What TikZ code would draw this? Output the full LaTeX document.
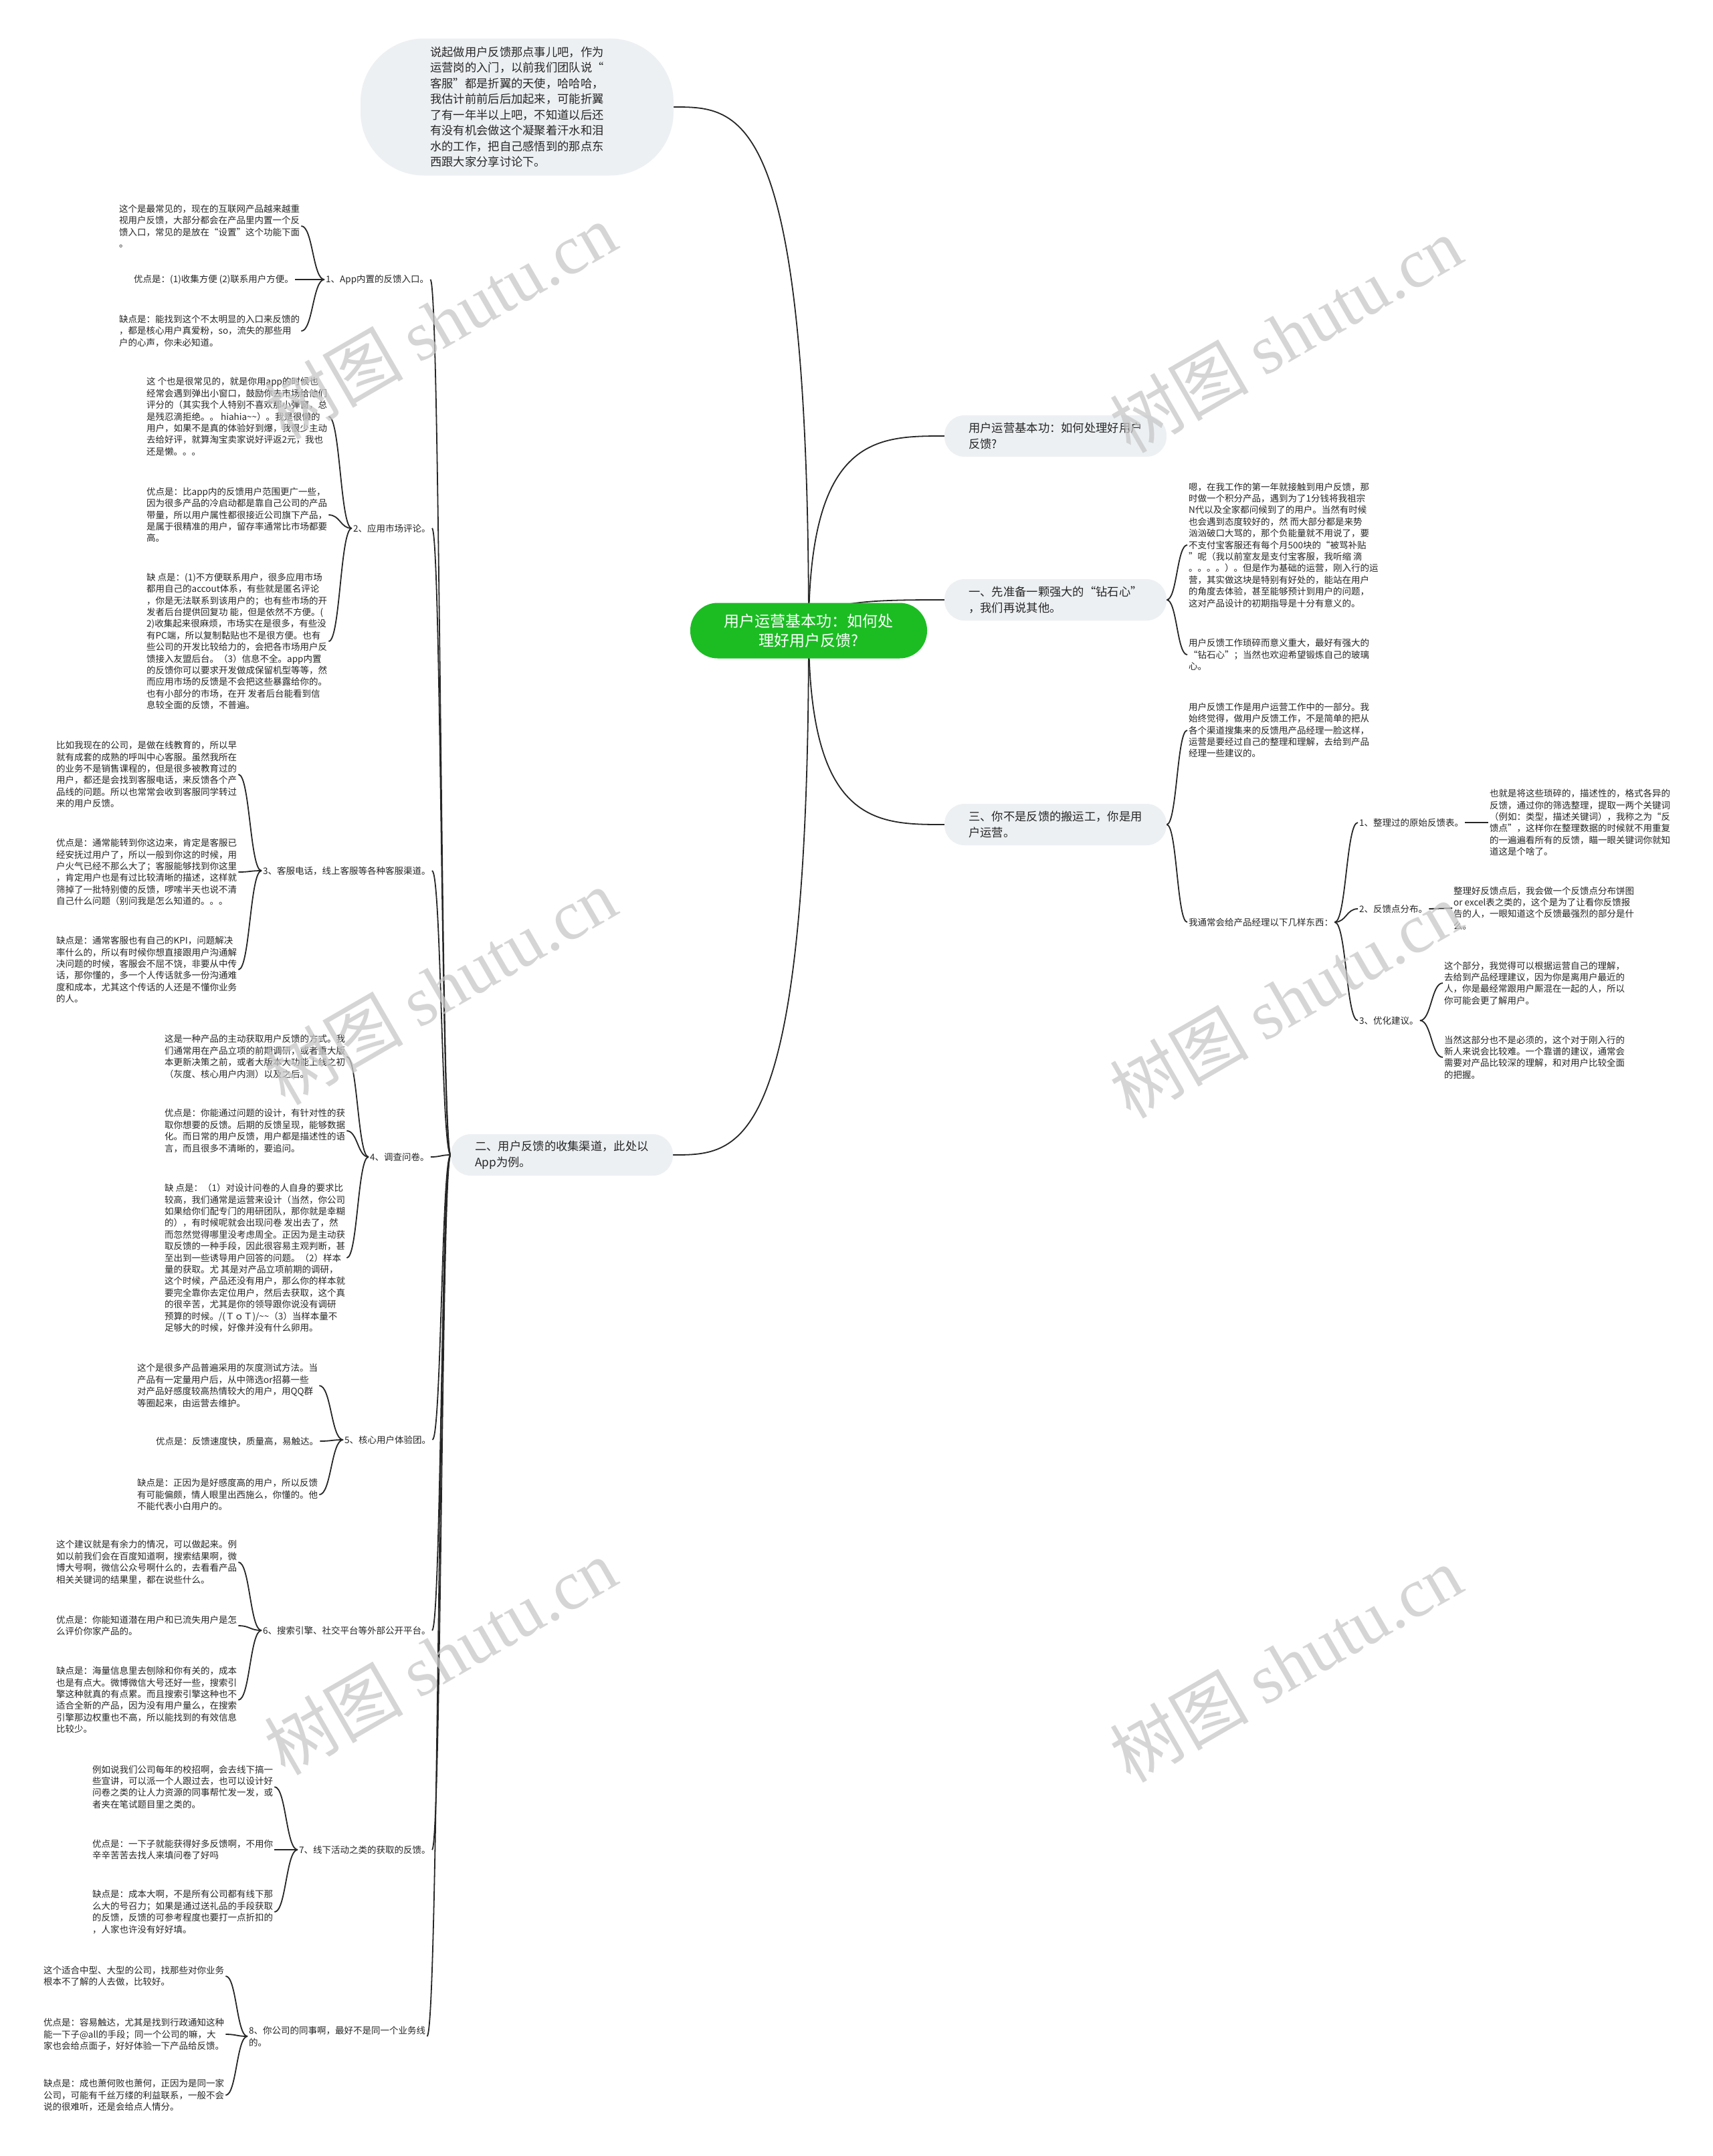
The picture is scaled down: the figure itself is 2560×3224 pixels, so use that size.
\documentclass[tikz,border=0pt]{standalone}
\usepackage{fontspec}
\setmainfont{Noto Sans CJK SC}
\newfontfamily\stampfont{Liberation Serif}
\usetikzlibrary{calc}
\definecolor{rootgreen}{RGB}{27,189,35}
\definecolor{topicgray}{RGB}{237,240,243}
\definecolor{ink}{RGB}{38,38,38}
\pgfdeclarelayer{paper}
\pgfdeclarelayer{wires}
\pgfsetlayers{paper,wires,main}

\begin{document}
\begin{tikzpicture}[
		% 统一样式
		x=1pt, y=-1pt,
		rootnode/.style = {fill=rootgreen, text=white, rounded corners=41pt, minimum width=354pt, minimum height=83pt, align=center, font=\fontsize{23pt}{29pt}\selectfont},
		topic/.style = {fill=topicgray, text=ink, rounded corners=30pt, minimum width=332pt, minimum height=62pt, align=left, font=\fontsize{17.3pt}{23.5pt}\selectfont},
		bubble/.style = {fill=topicgray, text=ink, rounded corners=95pt, minimum width=468pt, minimum height=205pt, align=left, font=\fontsize{17.3pt}{23.5pt}\selectfont},
		chan/.style = {anchor=west, text=ink, inner sep=2pt, align=left, font=\fontsize{13.5pt}{17.4pt}\selectfont},
		leafnote/.style = {anchor=west, text=ink, inner sep=2pt, align=left, font=\fontsize{13.5pt}{17.4pt}\selectfont},
		stamp/.style = {rotate=30, text=black!22, text opacity=0.75, font=\fontsize{104pt}{104pt}\selectfont},
		wire/.style = {draw=ink, line width=1.8pt},
		mainlink/.style = {to path={.. controls (\tikztostart |- \tikztotarget) and ($(\tikztostart |- \tikztotarget)!0.5!(\tikztotarget)$) .. (\tikztotarget)}},
		sublink/.style = {to path={.. controls ($(\tikztostart)!0.5!(\tikztostart -| \tikztotarget)$) and ($(\tikztotarget)!0.5!(\tikztotarget -| \tikztostart)$) .. (\tikztotarget)}}
		]
		
		\useasboundingbox (0,0) rectangle (2560,3224);
		\begin{pgfonlayer}{paper}
			\fill[white] (0,0) rectangle (2560,3224);
		\end{pgfonlayer}
		
		% --- 中心主题 ---
		\node[rootnode] (root) at (1209,943) {用户运营基本功：如何处\\理好用户反馈?};
		
		% --- 一级分支 ---
		\node[bubble] (intro) at (773,160) {说起做用户反馈那点事儿吧，作为\\运营岗的入门，以前我们团队说“\\客服”都是折翼的天使，哈哈哈，\\我估计前前后后加起来，可能折翼\\了有一年半以上吧，不知道以后还\\有没有机会做这个凝聚着汗水和泪\\水的工作，把自己感悟到的那点东\\西跟大家分享讨论下。};
		\node[topic] (title) at (1578,652) {用户运营基本功：如何处理好用户\\反馈?};
		\node[topic] (heart) at (1578,897) {一、先准备一颗强大的“钻石心”\\，我们再说其他。};
		\node[topic] (porter) at (1578,1233) {三、你不是反馈的搬运工，你是用\\户运营。};
		\node[topic] (channel) at (840,1727) {二、用户反馈的收集渠道，此处以\\App为例。};
		
		% --- 收集渠道 ---
		\node[chan] (ch1) at (485,418) {1、App内置的反馈入口。};
		\node[chan] (ch2) at (526,790) {2、应用市场评论。};
		\node[chan] (ch3) at (391,1302) {3、客服电话，线上客服等各种客服渠道。};
		\node[chan] (ch4) at (551,1730) {4、调查问卷。};
		\node[chan] (ch5) at (513,2153) {5、核心用户体验团。};
		\node[chan] (ch6) at (391,2438) {6、搜索引擎、社交平台等外部公开平台。};
		\node[chan] (ch7) at (445,2766) {7、线下活动之类的获取的反馈。};
		\node[chan] (ch8) at (370,3045) {8、你公司的同事啊，最好不是同一个业务线\\的。};
		
		% 1、App内置
		\node[leafnote] (ch1a) at (176,338) {这个是最常见的，现在的互联网产品越来越重\\视用户反馈，大部分都会在产品里内置一个反\\馈入口，常见的是放在“设置”这个功能下面\\。};
		\node[leafnote] (ch1b) at (198,418) {优点是：(1)收集方便 (2)联系用户方便。};
		\node[leafnote] (ch1c) at (176,495) {缺点是：能找到这个不太明显的入口来反馈的\\，都是核心用户真爱粉，so，流失的那些用\\户的心声，你未必知道。};
		
		% 2、应用市场
		\node[leafnote] (ch2a) at (217,623) {这 个也是很常见的，就是你用app的时候也\\经常会遇到弹出小窗口，鼓励你去市场给他们\\评分的（其实我个人特别不喜欢那小弹窗，总\\是残忍滴拒绝。。 hiahia\textasciitilde\textasciitilde）。我是很懒的\\用户，如果不是真的体验好到爆，我很少主动\\去给好评，就算淘宝卖家说好评返2元，我也\\还是懒。。。};
		\node[leafnote] (ch2b) at (217,770) {优点是：比app内的反馈用户范围更广一些，\\因为很多产品的冷启动都是靠自己公司的产品\\带量，所以用户属性都很接近公司旗下产品，\\是属于很精准的用户，留存率通常比市场都要\\高。};
		\node[leafnote] (ch2c) at (217,959) {缺 点是：(1)不方便联系用户，很多应用市场\\都用自己的accout体系，有些就是匿名评论\\，你是无法联系到该用户的；也有些市场的开\\发者后台提供回复功 能，但是依然不方便。(\\2)收集起来很麻烦，市场实在是很多，有些没\\有PC端，所以复制黏贴也不是很方便。也有\\些公司的开发比较给力的，会把各市场用户反\\馈接入友盟后台。（3）信息不全。app内置\\的反馈你可以要求开发做成保留机型等等，然\\而应用市场的反馈是不会把这些暴露给你的。\\也有小部分的市场，在开 发者后台能看到信\\息较全面的反馈，不普遍。};
		
		% 3、客服
		\node[leafnote] (ch3a) at (82,1158) {比如我现在的公司，是做在线教育的，所以早\\就有成套的成熟的呼叫中心客服。虽然我所在\\的业务不是销售课程的，但是很多被教育过的\\用户，都还是会找到客服电话，来反馈各个产\\品线的问题。所以也常常会收到客服同学转过\\来的用户反馈。};
		\node[leafnote] (ch3b) at (82,1304) {优点是：通常能转到你这边来，肯定是客服已\\经安抚过用户了，所以一般到你这的时候，用\\户火气已经不那么大了；客服能够找到你这里\\，肯定用户也是有过比较清晰的描述，这样就\\筛掉了一批特别傻的反馈，啰嗦半天也说不清\\自己什么问题（别问我是怎么知道的。。。};
		\node[leafnote] (ch3c) at (82,1450) {缺点是：通常客服也有自己的KPI，问题解决\\率什么的，所以有时候你想直接跟用户沟通解\\决问题的时候，客服会不屈不饶，非要从中传\\话，那你懂的，多一个人传话就多一份沟通难\\度和成本，尤其这个传话的人还是不懂你业务\\的人。};
		
		% 4、调查问卷
		\node[leafnote] (ch4a) at (244,1580) {这是一种产品的主动获取用户反馈的方式。我\\们通常用在产品立项的前期调研，或者重大版\\本更新决策之前，或者大版本大功能上线之初\\（灰度、核心用户内测）以及之后。};
		\node[leafnote] (ch4b) at (244,1691) {优点是：你能通过问题的设计，有针对性的获\\取你想要的反馈。后期的反馈呈现，能够数据\\化。而日常的用户反馈，用户都是描述性的语\\言，而且很多不清晰的，要追问。};
		\node[leafnote] (ch4c) at (244,1881) {缺 点是：（1）对设计问卷的人自身的要求比\\较高，我们通常是运营来设计（当然，你公司\\如果给你们配专门的用研团队，那你就是幸糊\\的），有时候呢就会出现问卷 发出去了，然\\而忽然觉得哪里没考虑周全。正因为是主动获\\取反馈的一种手段，因此很容易主观判断，甚\\至出到一些诱导用户回答的问题。（2）样本\\量的获取。尤 其是对产品立项前期的调研，\\这个时候，产品还没有用户，那么你的样本就\\要完全靠你去定位用户，然后去获取，这个真\\的很辛苦，尤其是你的领导跟你说没有调研\\预算的时候。/(ＴｏＴ)/\textasciitilde\textasciitilde（3）当样本量不\\足够大的时候，好像并没有什么卵用。};
		
		% 5、核心用户体验团
		\node[leafnote] (ch5a) at (203,2072) {这个是很多产品普遍采用的灰度测试方法。当\\产品有一定量用户后，从中筛选or招募一些\\对产品好感度较高热情较大的用户，用QQ群\\等圈起来，由运营去维护。};
		\node[leafnote] (ch5b) at (231,2155) {优点是：反馈速度快，质量高，易触达。};
		\node[leafnote] (ch5c) at (203,2235) {缺点是：正因为是好感度高的用户，所以反馈\\有可能偏颇，情人眼里出西施么，你懂的。他\\不能代表小白用户的。};
		
		% 6、外部公开平台
		\node[leafnote] (ch6a) at (82,2336) {这个建议就是有余力的情况，可以做起来。例\\如以前我们会在百度知道啊，搜索结果啊，微\\博大号啊，微信公众号啊什么的，去看看产品\\相关关键词的结果里，都在说些什么。};
		\node[leafnote] (ch6b) at (82,2431) {优点是：你能知道潜在用户和已流失用户是怎\\么评价你家产品的。};
		\node[leafnote] (ch6c) at (82,2542) {缺点是：海量信息里去刨除和你有关的，成本\\也是有点大。微博微信大号还好一些，搜索引\\擎这种就真的有点累。而且搜索引擎这种也不\\适合全新的产品，因为没有用户量么，在搜索\\引擎那边权重也不高，所以能找到的有效信息\\比较少。};
		
		% 7、线下活动
		\node[leafnote] (ch7a) at (136,2672) {例如说我们公司每年的校招啊，会去线下搞一\\些宣讲，可以派一个人跟过去，也可以设计好\\问卷之类的让人力资源的同事帮忙发一发，或\\者夹在笔试题目里之类的。};
		\node[leafnote] (ch7b) at (136,2766) {优点是：一下子就能获得好多反馈啊，不用你\\辛辛苦苦去找人来填问卷了好吗};
		\node[leafnote] (ch7c) at (136,2859) {缺点是：成本大啊，不是所有公司都有线下那\\么大的号召力；如果是通过送礼品的手段获取\\的反馈，反馈的可参考程度也要打一点折扣的\\，人家也许没有好好填。};
		
		% 8、公司同事
		\node[leafnote] (ch8a) at (63,2955) {这个适合中型、大型的公司，找那些对你业务\\根本不了解的人去做，比较好。};
		\node[leafnote] (ch8b) at (63,3042) {优点是：容易触达，尤其是找到行政通知这种\\能一下子@all的手段；同一个公司的嘛，大\\家也会给点面子，好好体验一下产品给反馈。};
		\node[leafnote] (ch8c) at (63,3133) {缺点是：成也萧何败也萧何，正因为是同一家\\公司，可能有千丝万缕的利益联系，一般不会\\说的很难听，还是会给点人情分。};
		
		% --- 右侧：钻石心 ---
		\node[leafnote] (hta) at (1775,815) {嗯，在我工作的第一年就接触到用户反馈，那\\时做一个积分产品，遇到为了1分钱将我祖宗\\N代以及全家都问候到了的用户。当然有时候\\也会遇到态度较好的，然 而大部分都是来势\\汹汹破口大骂的，那个负能量就不用说了，要\\不支付宝客服还有每个月500块的“被骂补贴\\”呢（我以前室友是支付宝客服，我听缩 滴\\。。。。）。但是作为基础的运营，刚入行的运\\营，其实做这块是特别有好处的，能站在用户\\的角度去体验，甚至能够预计到用户的问题，\\这对产品设计的初期指导是十分有意义的。};
		\node[leafnote] (htb) at (1775,979) {用户反馈工作琐碎而意义重大，最好有强大的\\“钻石心”；当然也欢迎希望锻炼自己的玻璃\\心。};
		
		% --- 右侧：用户运营 ---
		\node[leafnote] (op1) at (1775,1092) {用户反馈工作是用户运营工作中的一部分。我\\始终觉得，做用户反馈工作，不是简单的把从\\各个渠道搜集来的反馈甩产品经理一脸这样，\\运营是要经过自己的整理和理解，去给到产品\\经理一些建议的。};
		\node[leafnote] (op2) at (1775,1379) {我通常会给产品经理以下几样东西：};
		\node[chan] (it1) at (2030,1230) {1、整理过的原始反馈表。};
		\node[chan] (it2) at (2030,1359) {2、反馈点分布。};
		\node[chan] (it3) at (2030,1526) {3、优化建议。};
		\node[leafnote] (it1a) at (2225,1230) {也就是将这些琐碎的，描述性的，格式各异的\\反馈，通过你的筛选整理，提取一两个关键词\\（例如：类型，描述关键词），我称之为“反\\馈点”，这样你在整理数据的时候就不用重复\\的一遍遍看所有的反馈，瞄一眼关键词你就知\\道这是个啥了。};
		\node[leafnote] (it2a) at (2171,1358) {整理好反馈点后，我会做一个反馈点分布饼图\\or excel表之类的，这个是为了让看你反馈报\\告的人，一眼知道这个反馈最强烈的部分是什\\么。};
		\node[leafnote] (it3a) at (2157,1470) {这个部分，我觉得可以根据运营自己的理解，\\去给到产品经理建议，因为你是离用户最近的\\人，你是最经常跟用户厮混在一起的人，所以\\你可能会更了解用户。};
		\node[leafnote] (it3b) at (2157,1581) {当然这部分也不是必须的，这个对于刚入行的\\新人来说会比较难。一个靠谱的建议，通常会\\需要对产品比较深的理解，和对用户比较全面\\的把握。};
		
		% --- 连线 ---
		\begin{pgfonlayer}{wires}
			\draw[wire, mainlink] (root.center) to (intro.east);
			\draw[wire, mainlink] (root.center) to (title.west);
			\draw[wire, mainlink] (root.center) to (heart.west);
			\draw[wire, mainlink] (root.center) to (porter.west);
			\draw[wire, mainlink] (root.center) to (channel.east);
			
			% 收集渠道与其说明
			\foreach \s in {1,...,8} {
				\draw[wire, sublink] (channel.west) to (ch\s.east);
				\foreach \k in {a,b,c}
					\draw[wire, sublink] (ch\s.west) to (ch\s\k.east);
			}
			
			\draw[wire, sublink] (heart.east) to (hta.west);
			\draw[wire, sublink] (heart.east) to (htb.west);
			\draw[wire, sublink] (porter.east) to (op1.west);
			\draw[wire, sublink] (porter.east) to (op2.west);
			\foreach \s in {1,2,3}
				\draw[wire, sublink] (op2.east) to (it\s.west);
			\draw[wire, sublink] (it1.east) to (it1a.west);
			\draw[wire, sublink] (it2.east) to (it2a.west);
			\draw[wire, sublink] (it3.east) to (it3a.west);
			\draw[wire, sublink] (it3.east) to (it3b.west);
		\end{pgfonlayer}
		
		% --- 水印 ---
		\node[stamp] (wm1) at (658,480) {树图 {\stampfont shutu.cn}};
		\node[stamp] (wm2) at (1922,500) {树图 {\stampfont shutu.cn}};
		\node[stamp] (wm3) at (658,1475) {树图 {\stampfont shutu.cn}};
		\node[stamp] (wm4) at (1922,1495) {树图 {\stampfont shutu.cn}};
		\node[stamp] (wm5) at (658,2477) {树图 {\stampfont shutu.cn}};
		\node[stamp] (wm6) at (1922,2488) {树图 {\stampfont shutu.cn}};
		
	\end{tikzpicture}
\end{document}
